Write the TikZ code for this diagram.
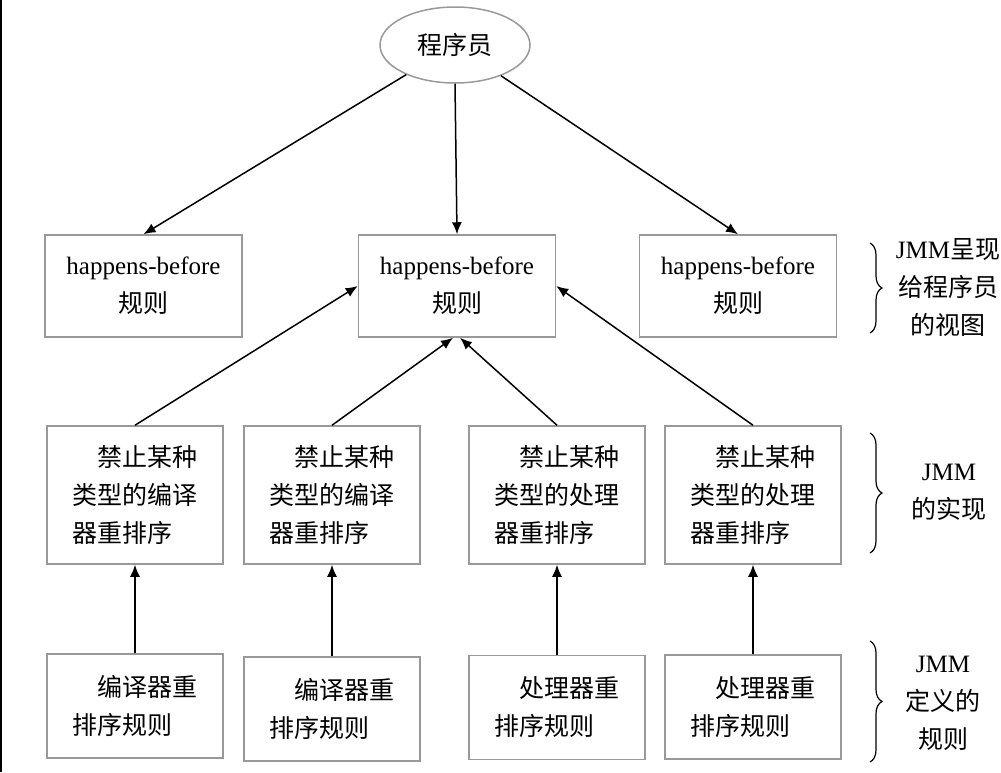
\documentclass[tikz,border=0pt]{standalone}
\usepackage{fontspec}
\setmainfont{Liberation Serif}
\newfontfamily\cjk{Noto Sans CJK SC}
\usetikzlibrary{shapes.geometric,arrows.meta,decorations.pathreplacing}

\begin{document}
\begin{tikzpicture}[x=1pt,y=-1pt,
	font=\fontsize{25}{38}\selectfont,
	hbbox/.style={draw=gray!80,line width=1.5pt,minimum width=197pt,minimum height=102pt,inner sep=0pt,align=center},
	banbox/.style={draw=gray!80,line width=1.5pt,minimum width=176pt,minimum height=138pt,inner sep=0pt,text width=125pt,align=left,font=\fontsize{25}{38}\selectfont\cjk},
	defbox/.style={banbox,minimum height=104pt},
	side/.style={align=center,font=\fontsize{25}{38}\selectfont\cjk},
	arr/.style={-{Latex[length=12pt,width=10pt]},draw=black,line width=1.5pt}]

	\useasboundingbox (0,0) rectangle (1001,772);
	\draw[line width=2pt] (1,0) -- (1,772);

	\node[draw=gray!80,line width=1.5pt,ellipse,minimum width=150pt,minimum height=76pt,inner sep=0pt,font=\fontsize{25}{38}\selectfont\cjk] (prog) at (455,45) {程序员};

	\node[hbbox] (hb1) at (143.5,286) {happens-before\\{\cjk 规则}};
	\node[hbbox] (hb2) at (457,286) {happens-before\\{\cjk 规则}};
	\node[hbbox] (hb3) at (738,286) {happens-before\\{\cjk 规则}};

	\node[banbox] (ban1) at (135,495) {\hspace*{1em}禁止某种\\类型的编译\\器重排序};
	\node[banbox] (ban2) at (332,495) {\hspace*{1em}禁止某种\\类型的编译\\器重排序};
	\node[banbox] (ban3) at (557,495) {\hspace*{1em}禁止某种\\类型的处理\\器重排序};
	\node[banbox] (ban4) at (753,495) {\hspace*{1em}禁止某种\\类型的处理\\器重排序};

	\node[defbox] (def1) at (135,706) {\hspace*{1em}编译器重\\排序规则};
	\node[defbox] (def2) at (332,709) {\hspace*{1em}编译器重\\排序规则};
	\node[defbox] (def3) at (557,707.5) {\hspace*{1em}处理器重\\排序规则};
	\node[defbox] (def4) at (753,707) {\hspace*{1em}处理器重\\排序规则};

	\draw[arr] (prog) to (hb1.north);
	\draw[arr] (prog.south) to (hb2.north);
	\draw[arr] (prog) to (hb3.north);

	\draw[arr] (ban1.north) to (hb2.west);
	\draw[arr] (ban2.north) to ([xshift=-4pt]hb2.south);
	\draw[arr] (ban3.north) to ([xshift=3pt]hb2.south);
	\draw[arr] (ban4.north) to (hb2.east);

	\draw[arr] (def1) to (ban1);
	\draw[arr] (def2) to (ban2);
	\draw[arr] (def3) to (ban3);
	\draw[arr] (def4) to (ban4);

	% braces on the right
	\draw[line width=1.2pt,decorate,decoration={brace,amplitude=12pt}] (870,243) -- (870,333);
	\draw[line width=1.2pt,decorate,decoration={brace,amplitude=12pt}] (870,433) -- (870,553);
	\draw[line width=1.2pt,decorate,decoration={brace,amplitude=12pt}] (870,641) -- (870,762);

	\node[side] (view) at (948,288) {{\rmfamily JMM}呈现\\给程序员\\的视图};
	\node[side] (impl) at (949,492) {{\rmfamily JMM}\\的实现};
	\node[side] (rule) at (943,703) {{\rmfamily JMM}\\定义的\\规则};

\end{tikzpicture}
\end{document}
